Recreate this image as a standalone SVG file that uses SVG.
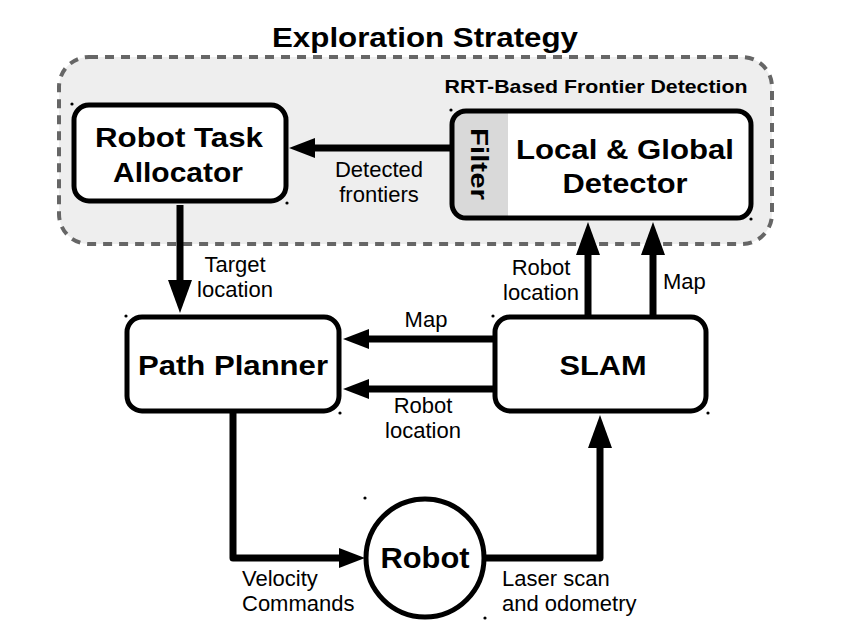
<svg xmlns="http://www.w3.org/2000/svg" width="856" height="642" viewBox="0 0 856 642">
<style>
.box{fill:#fff;stroke:#000;stroke-width:5}
.b{font-family:"Liberation Sans",Arial,sans-serif;font-weight:bold;fill:#000}
.t{font-family:"Liberation Sans",Arial,sans-serif;font-size:22px;fill:#000}
.c{fill:none;stroke:#000;stroke-width:7}
.dot{fill:#000}
</style>
<defs>
<marker id="ah" viewBox="0 0 26 20" refX="0" refY="10" markerWidth="26" markerHeight="20" orient="auto" markerUnits="userSpaceOnUse">
<path d="M0,0 L26,10 L0,20 z" fill="#000"/>
</marker>
<marker id="av" viewBox="0 0 33 24" refX="0" refY="12" markerWidth="33" markerHeight="24" orient="auto" markerUnits="userSpaceOnUse">
<path d="M0,0 L33,12 L0,24 z" fill="#000"/>
</marker>
<clipPath id="cp"><rect x="452" y="111" width="299" height="107" rx="14"/></clipPath>
</defs>
<rect width="856" height="642" fill="#fff"/>
<g id="exploration-strategy">
<rect x="59" y="57" width="713" height="187" rx="30" fill="#eeeeee" stroke="#666" stroke-width="4" stroke-dasharray="9,7"/>
<text class="b" x="425" y="47" font-size="28" text-anchor="middle" textLength="306" lengthAdjust="spacingAndGlyphs">Exploration Strategy</text>
<text class="b" x="596" y="93" font-size="18.5" text-anchor="middle" textLength="303" lengthAdjust="spacingAndGlyphs">RRT-Based Frontier Detection</text>
</g>
<g id="connectors">
<line class="c" x1="450" y1="148" x2="315" y2="148" marker-end="url(#ah)"/>
<line class="c" x1="180" y1="205" x2="180" y2="280" marker-end="url(#av)"/>
<line class="c" x1="493" y1="339" x2="369" y2="339" marker-end="url(#ah)"/>
<line class="c" x1="493" y1="389" x2="369" y2="389" marker-end="url(#ah)"/>
<line class="c" x1="588" y1="315" x2="588" y2="255" marker-end="url(#av)"/>
<line class="c" x1="653" y1="315" x2="653" y2="255" marker-end="url(#av)"/>
<path class="c" d="M233,413 V558 H339" marker-end="url(#ah)" stroke-linejoin="round"/>
<path class="c" d="M485,558 H600 V448" marker-end="url(#av)" stroke-linejoin="round"/>
<text class="t" x="379" y="177" text-anchor="middle">Detected</text>
<text class="t" x="379" y="202" text-anchor="middle">frontiers</text>
<text class="t" x="235" y="272" text-anchor="middle">Target</text>
<text class="t" x="235" y="297" text-anchor="middle">location</text>
<text class="t" x="426" y="327" text-anchor="middle">Map</text>
<text class="t" x="423" y="413" text-anchor="middle">Robot</text>
<text class="t" x="423" y="438" text-anchor="middle">location</text>
<text class="t" x="541" y="275" text-anchor="middle">Robot</text>
<text class="t" x="541" y="300" text-anchor="middle">location</text>
<text class="t" x="663" y="289">Map</text>
<text class="t" x="242" y="586">Velocity</text>
<text class="t" x="242" y="611">Commands</text>
<text class="t" x="502" y="586">Laser scan</text>
<text class="t" x="502" y="611">and odometry</text>
</g>
<g id="robot-task-allocator">
<rect class="box" x="74" y="105" width="212" height="96" rx="15"/>
<text class="b" x="179" y="147" font-size="27" text-anchor="middle" textLength="168" lengthAdjust="spacingAndGlyphs">Robot Task</text>
<text class="b" x="178" y="182" font-size="27" text-anchor="middle" textLength="130" lengthAdjust="spacingAndGlyphs">Allocator</text>
<circle class="dot" cx="72" cy="104" r="1.6"/>
<circle class="dot" cx="287" cy="203" r="1.6"/>
</g>
<g id="local-global-detector">
<rect x="452" y="111" width="299" height="107" rx="14" fill="#fff"/>
<rect x="452" y="111" width="56" height="107" fill="#d9d9d9" clip-path="url(#cp)"/>
<rect x="452" y="111" width="299" height="107" rx="14" fill="none" stroke="#000" stroke-width="5"/>
<text class="b" transform="translate(471,164) rotate(90)" font-size="23.5" text-anchor="middle" textLength="72" lengthAdjust="spacingAndGlyphs">Filter</text>
<text class="b" x="625" y="159" font-size="28" text-anchor="middle" textLength="218" lengthAdjust="spacingAndGlyphs">Local &amp; Global</text>
<text class="b" x="625" y="193" font-size="28" text-anchor="middle" textLength="125" lengthAdjust="spacingAndGlyphs">Detector</text>
<circle class="dot" cx="451" cy="110" r="1.6"/>
<circle class="dot" cx="751" cy="219" r="1.6"/>
</g>
<g id="path-planner">
<rect class="box" x="127" y="317" width="212" height="94" rx="15"/>
<text class="b" x="233" y="375" font-size="28" text-anchor="middle" textLength="190" lengthAdjust="spacingAndGlyphs">Path Planner</text>
<circle class="dot" cx="126" cy="316" r="1.6"/>
<circle class="dot" cx="340" cy="413" r="1.6"/>
</g>
<g id="slam">
<rect class="box" x="495" y="317" width="211" height="94" rx="15"/>
<text class="b" x="603" y="375" font-size="28" text-anchor="middle" textLength="87" lengthAdjust="spacingAndGlyphs">SLAM</text>
<circle class="dot" cx="493" cy="316" r="1.6"/>
<circle class="dot" cx="708" cy="413" r="1.6"/>
</g>
<g id="robot">
<circle cx="425" cy="558" r="59" fill="#fff" stroke="#000" stroke-width="5"/>
<text class="b" x="425" y="568" font-size="30" text-anchor="middle" textLength="89" lengthAdjust="spacingAndGlyphs">Robot</text>
<circle class="dot" cx="365" cy="498" r="1.6"/>
<circle class="dot" cx="485" cy="618" r="1.6"/>
</g>
</svg>
